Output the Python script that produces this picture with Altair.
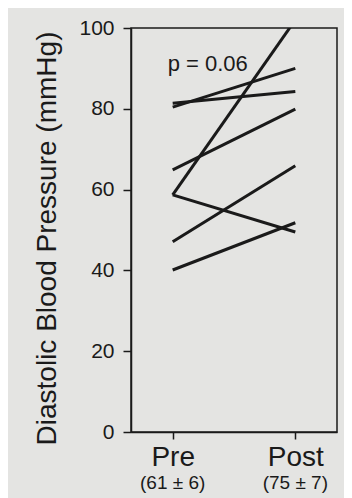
import altair as alt
import pandas as pd

conditions = ["Pre", "Post"]
subjects = ["S1", "S2", "S3", "S4", "S5", "S6", "S7"]
pre_values = [58.7, 58.7, 80.4, 81.4, 64.9, 47.1, 40.1]
post_values = [102.0, 49.5, 90.0, 84.3, 79.9, 65.9, 51.8]
sub_labels = ["(61 ± 6)", "(75 ± 7)"]
p_text = ["p = 0.06"]

rows = []
for s, a, b in zip(subjects, pre_values, post_values):
    rows.append({"subject": s, "cond": conditions[0], "value": a})
    rows.append({"subject": s, "cond": conditions[1], "value": b})
df = pd.DataFrame(rows)
sub_df = pd.DataFrame({"cond": conditions, "label": sub_labels})
p_df = pd.DataFrame({"cond": [conditions[0]], "value": [89.3], "label": p_text})

FONT = "Liberation Sans"
INK = "#1a1a1a"
W, H = 206, 404

x_scale = alt.Scale(domain=conditions, padding=0.34)
y_scale = alt.Scale(domain=[0, 100], nice=False, zero=True)

lines = alt.Chart(df).mark_line(color=INK, strokeWidth=3, clip=True).encode(
    x=alt.X("cond:N", scale=x_scale, sort=conditions,
            axis=alt.Axis(title=None, labelAngle=0, labelFontSize=28, labelFont=FONT,
                          labelColor=INK, tickSize=7, tickWidth=1.5, tickColor=INK,
                          labelPadding=4, domainColor=INK, domainWidth=1.5)),
    y=alt.Y("value:Q", scale=y_scale,
            axis=alt.Axis(title="Diastolic Blood Pressure (mmHg)", values=[0, 20, 40, 60, 80, 100],
                          grid=False, labelFontSize=21, labelFont=FONT, labelColor=INK,
                          tickSize=8, tickWidth=1.5, tickColor=INK, labelPadding=9,
                          domainColor=INK, domainWidth=1.5,
                          titleFontSize=28, titleFont=FONT, titleFontWeight="normal",
                          titleColor=INK, titleX=-70, titleY=210)),
    detail="subject:N",
)

sub = alt.Chart(sub_df).mark_text(font=FONT, fontSize=19, color=INK, baseline="middle").encode(
    x=alt.X("cond:N", scale=x_scale, sort=conditions),
    y=alt.value(H + 51),
    text="label:N",
)

ptxt = alt.Chart(p_df).mark_text(font=FONT, fontSize=22, color=INK, align="left",
                                 baseline="alphabetic", dx=-5).encode(
    x=alt.X("cond:N", scale=x_scale, sort=conditions),
    y=alt.Y("value:Q", scale=y_scale),
    text="label:N",
)

chart = alt.layer(lines, sub, ptxt).properties(
    width=W, height=H,
    autosize=alt.AutoSizeParams(type="none"),
    padding={"left": 123, "top": 20, "right": 7, "bottom": 66},
    background="#e4e4e2",
).configure_view(stroke=INK, strokeWidth=1.5)

chart.save("out.html", embed_options={"renderer": "svg", "actions": False})
